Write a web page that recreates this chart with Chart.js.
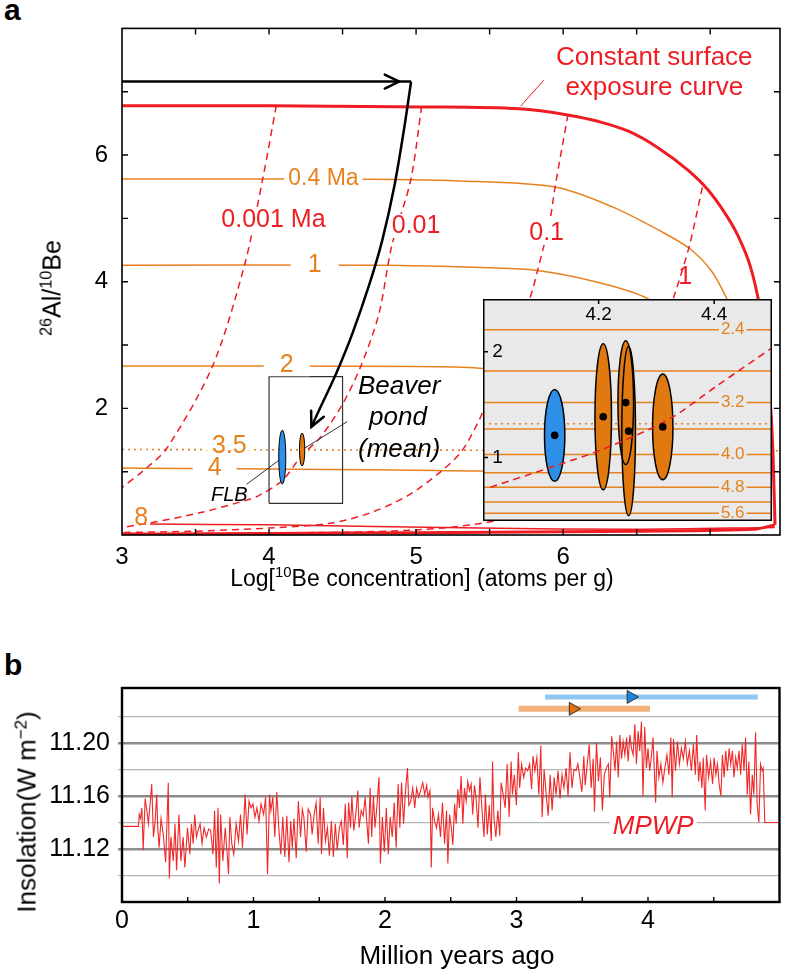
<!DOCTYPE html>
<html>
<head>
<meta charset="utf-8">
<script src="https://cdn.jsdelivr.net/npm/chart.js@4.4.1/dist/chart.umd.min.js"></script>
<style>
  body { margin: 0; background: #fff; width: 788px; height: 972px; position: relative; overflow: hidden;
         font-family: 'Liberation Sans', Arial, Helvetica, sans-serif; }
  canvas { position: absolute; }
  .t { position: absolute; white-space: nowrap; color: #000; }
  .ctr { transform: translate(-50%, -50%); }
  .rot { transform: translate(-50%, -50%) rotate(-90deg); }
  sup { font-size: 65%; vertical-align: 0.55em; line-height: 0; }
</style>
</head>
<body>
<div class="t" style="left:4px;top:-7px;font-size:30px;font-weight:bold">a</div>
<canvas id="chartA" width="788" height="600" style="left:0;top:0"></canvas>
<canvas id="inset" width="297" height="230" style="left:479px;top:295px"></canvas>
<div class="t ctr" style="left:422px;top:578px;font-size:23px">Log[<sup>10</sup>Be concentration] (atoms per g)</div>
<div class="t rot" style="left:52px;top:288px;font-size:25px"><sup>26</sup>Al/<sup>10</sup>Be</div>

<div class="t" style="left:4px;top:648px;font-size:30px;font-weight:bold">b</div>
<canvas id="chartB" width="788" height="312" style="left:0;top:660px"></canvas>
<div class="t ctr" style="left:457px;top:955px;font-size:26px">Million years ago</div>
<div class="t rot" style="left:27px;top:812px;font-size:26px">Insolation(W m<sup>−2</sup>)</div>

<script>
// ---- panel a data (log10 Be, 26Al/10Be) ----
const exposureCurve = [[3.0,6.78],[4.0,6.78],[5.04,6.76],[5.70,6.73],[6.03,6.633],[6.24,6.53],[6.444,6.376],[6.647,6.113],[6.851,5.757],[6.986,5.448],[7.102,5.077],[7.19,4.722],[7.271,4.258],[7.325,3.748],[7.366,3.176],[7.40,2.403],[7.427,1.321],[7.441,0.162]];
const exposureLower = [[7.441,0.162],[7.3,0.09],[6.5,0.06],[5.5,0.045],[4.5,0.03],[3.5,0.02],[3.0,0.015]];
const burial8 = [[3.19,0.173],[4.0,0.16],[5.43,0.11],[6.5,0.09],[7.44,0.12]];
const burial04 = [[3.0,5.62],[4.5,5.62],[5.3,5.59],[5.947,5.494],[6.331,5.185],[6.67,4.79],[6.862,4.52],[7.009,4.17],[7.111,3.743],[7.25,3.0],[7.35,2.0]];
const burial1 = [[3.0,4.26],[4.75,4.26],[5.5,4.22],[5.814,4.18],[6.22,4.0],[6.56,3.75],[6.9,3.2],[7.1,2.5]];
const burial2 = [[3.0,2.67],[5.0,2.66],[5.43,2.635],[6.0,2.5],[6.6,2.1]];
const burial35 = [[3.0,1.35],[7.475,1.33]];
const burial4 = [[3.0,1.06],[5.43,1.01],[6.5,0.9]];
const exposure0001 = [[4.049,6.78],[3.955,5.60],[3.833,4.26],[3.616,2.67],[3.305,1.37],[3.142,1.01],[3.0,0.75]];
const exposure001 = [[5.038,6.77],[4.963,5.60],[4.835,4.57],[4.747,3.49],[4.625,2.67],[4.496,2.05],[4.341,1.52],[4.227,1.27],[4.090,0.86],[3.936,0.63],[3.846,0.55],[3.528,0.35],[3.19,0.19],[3.0,0.12]];
const exposure01 = [[6.033,6.64],[5.945,5.49],[5.911,4.98],[5.830,4.21],[5.776,3.75],[5.62,2.8],[5.50,2.2],[5.424,1.79],[5.309,1.32],[5.173,1.01],[4.95,0.63],[4.70,0.36],[4.43,0.19],[4.0,0.11],[3.5,0.06],[3.0,0.04]];
const exposure1 = [[6.947,5.49],[6.859,4.57],[6.764,3.84],[6.6,2.7],[6.35,1.5],[6.0,0.6],[5.6,0.25],[5.0,0.08],[4.0,0.03],[3.0,0.01]];
const arrowTop = [[3.0,7.16],[4.966,7.16]];
const arrowCurve = [[4.966,7.16],[4.919,6.421],[4.851,5.494],[4.769,4.645],[4.681,3.949],[4.566,3.176],[4.458,2.558],[4.356,2.048],[4.288,1.708]];
const zoomBox = [[4.0,0.5],[4.5,0.5],[4.5,2.5],[4.0,2.5],[4.0,0.5]];
const leaderConst = [[5.868,7.18],[5.710,6.77]];
const leaderBeaver = [[4.532,1.79],[4.241,1.37]];
const leaderFLB = [[3.847,0.80],[4.085,1.21]];
// samples: [centre x, centre y, half width, half height]
const sampleFLB = [4.09, 1.23, 0.024, 0.425];
const sampleBeaverMean = [4.225, 1.35, 0.018, 0.26];
const xTicksA = [3.5,4,4.5,5,5.5,6,6.5,7];
const yTicksA = [1,2,3,4,5,6,7];

// ---- inset data ----
const insetIsoLevels = [2.21, 1.82, 1.52, 1.27, 1.03, 0.856, 0.719, 0.58, 0.474];
const insetIsoAges = ['2.4','2.8','3.2','3.6','4.0','4.4','4.8','5.2','5.6'];
const insetDotted = 1.32;
const insetExposure = [[4.013,0.72],[4.124,0.92],[4.208,1.08],[4.321,1.36],[4.405,1.68],[4.498,2.03]];
const insetFLB = [[4.124, 1.21, 0.0176, 0.435]];
const insetBeaver = [[4.208,1.386,0.0143,0.69],[4.252,1.25,0.0118,0.80],[4.247,1.52,0.0135,0.585],[4.311,1.29,0.0176,0.50]];

// ---- panel b data ----
const insolation = [[0,11.137],[0.126,11.137],[0.131,11.146],[0.141,11.143],[0.151,11.151],[0.161,11.119],[0.176,11.158],[0.189,11.149],[0.201,11.139],[0.226,11.169],[0.239,11.129],[0.252,11.141],[0.264,11.161],[0.272,11.136],[0.282,11.121],[0.297,11.143],[0.314,11.131],[0.332,11.110],[0.352,11.170],[0.360,11.098],[0.372,11.129],[0.390,11.111],[0.403,11.139],[0.415,11.104],[0.433,11.146],[0.448,11.111],[0.465,11.129],[0.478,11.106],[0.498,11.136],[0.516,11.116],[0.528,11.139],[0.541,11.124],[0.553,11.146],[0.566,11.129],[0.579,11.134],[0.594,11.139],[0.609,11.124],[0.624,11.136],[0.642,11.129],[0.659,11.135],[0.674,11.134],[0.692,11.116],[0.704,11.149],[0.717,11.106],[0.730,11.151],[0.740,11.094],[0.750,11.146],[0.767,11.111],[0.785,11.136],[0.800,11.116],[0.810,11.101],[0.820,11.144],[0.835,11.124],[0.850,11.116],[0.868,11.139],[0.886,11.126],[0.901,11.146],[0.916,11.121],[0.936,11.161],[0.951,11.131],[0.966,11.156],[0.981,11.151],[0.996,11.154],[1.011,11.144],[1.026,11.151],[1.042,11.141],[1.057,11.154],[1.077,11.146],[1.092,11.159],[1.107,11.101],[1.122,11.161],[1.132,11.149],[1.147,11.159],[1.162,11.129],[1.177,11.163],[1.192,11.136],[1.208,11.116],[1.223,11.144],[1.238,11.114],[1.253,11.145],[1.270,11.110],
[1.283,11.141],[1.295,11.121],[1.308,11.143],[1.325,11.113],[1.341,11.156],[1.358,11.129],[1.371,11.150],[1.383,11.144],[1.401,11.118],[1.416,11.150],[1.434,11.146],[1.446,11.131],[1.461,11.146],[1.476,11.155],[1.492,11.124],[1.507,11.159],[1.517,11.116],[1.532,11.151],[1.547,11.126],[1.562,11.136],[1.577,11.115],[1.592,11.141],[1.607,11.114],[1.622,11.139],[1.637,11.119],[1.653,11.136],[1.668,11.141],[1.683,11.123],[1.698,11.154],[1.713,11.113],[1.723,11.155],[1.738,11.136],[1.748,11.160],[1.763,11.134],[1.778,11.146],[1.793,11.164],[1.803,11.136],[1.819,11.149],[1.834,11.145],[1.849,11.159],[1.861,11.141],[1.874,11.124],[1.887,11.166],[1.899,11.129],[1.912,11.160],[1.924,11.136],[1.939,11.153],[1.954,11.174],[1.965,11.109],[1.980,11.144],[1.995,11.118],[2.010,11.151],[2.025,11.116],[2.040,11.144],[2.055,11.129],[2.070,11.155],[2.085,11.121],[2.100,11.169],[2.113,11.136],[2.126,11.170],[2.141,11.139],[2.156,11.164],[2.171,11.181],[2.181,11.153],[2.196,11.156],[2.211,11.166],[2.226,11.151],[2.241,11.166],[2.256,11.159],[2.271,11.164],[2.287,11.170],[2.302,11.161],[2.317,11.168],[2.327,11.159],[2.342,11.164],[2.352,11.106],[2.362,11.151],[2.377,11.141],[2.392,11.136],[2.407,11.146],[2.422,11.129],[2.437,11.155],[2.453,11.124],[2.468,11.149],[2.478,11.109],
[2.491,11.146],[2.504,11.136],[2.516,11.123],[2.529,11.154],[2.541,11.139],[2.554,11.165],[2.566,11.151],[2.579,11.175],[2.592,11.139],[2.604,11.166],[2.617,11.156],[2.629,11.171],[2.642,11.164],[2.655,11.169],[2.667,11.146],[2.680,11.168],[2.692,11.159],[2.707,11.136],[2.722,11.174],[2.738,11.149],[2.753,11.129],[2.763,11.161],[2.778,11.131],[2.793,11.153],[2.808,11.126],[2.818,11.186],[2.828,11.144],[2.843,11.129],[2.858,11.149],[2.873,11.130],[2.883,11.170],[2.899,11.161],[2.914,11.151],[2.929,11.184],[2.944,11.144],[2.959,11.186],[2.969,11.161],[2.984,11.176],[2.999,11.153],[3.014,11.193],[3.024,11.166],[3.039,11.184],[3.055,11.174],[3.070,11.181],[3.085,11.179],[3.100,11.184],[3.115,11.165],[3.125,11.190],[3.140,11.179],[3.155,11.189],[3.170,11.161],[3.185,11.198],[3.195,11.144],[3.210,11.180],[3.226,11.161],[3.241,11.145],[3.256,11.176],[3.271,11.149],[3.286,11.174],[3.301,11.161],[3.316,11.179],[3.331,11.158],[3.346,11.176],[3.361,11.166],[3.377,11.181],[3.392,11.160],[3.407,11.193],[3.422,11.166],[3.437,11.180],[3.452,11.179],[3.467,11.184],[3.482,11.174],[3.497,11.163],[3.512,11.190],[3.522,11.168],[3.538,11.184],[3.553,11.199],[3.568,11.166],[3.583,11.188],[3.593,11.148],[3.608,11.200],[3.623,11.171],[3.638,11.189],[3.653,11.149],[3.668,11.176],[3.683,11.181],[3.699,11.184],[3.709,11.159],[3.724,11.205],[3.739,11.191],
[3.749,11.179],[3.761,11.201],[3.774,11.174],[3.786,11.206],[3.799,11.188],[3.811,11.201],[3.824,11.191],[3.837,11.204],[3.849,11.186],[3.862,11.206],[3.874,11.196],[3.887,11.191],[3.900,11.214],[3.912,11.184],[3.925,11.209],[3.937,11.194],[3.950,11.216],[3.962,11.160],[3.975,11.212],[3.988,11.181],[4.000,11.196],[4.013,11.179],[4.025,11.189],[4.038,11.204],[4.050,11.174],[4.058,11.155],[4.068,11.194],[4.083,11.174],[4.098,11.184],[4.113,11.170],[4.128,11.181],[4.144,11.191],[4.159,11.176],[4.174,11.204],[4.184,11.159],[4.194,11.203],[4.209,11.179],[4.224,11.201],[4.239,11.184],[4.254,11.196],[4.269,11.188],[4.284,11.201],[4.299,11.184],[4.315,11.194],[4.330,11.179],[4.345,11.199],[4.360,11.176],[4.370,11.206],[4.385,11.171],[4.395,11.186],[4.410,11.166],[4.420,11.189],[4.435,11.149],[4.445,11.191],[4.461,11.174],[4.476,11.186],[4.491,11.169],[4.503,11.189],[4.516,11.176],[4.528,11.184],[4.541,11.169],[4.554,11.160],[4.566,11.191],[4.579,11.174],[4.591,11.194],[4.604,11.179],[4.617,11.196],[4.629,11.184],[4.642,11.194],[4.654,11.174],[4.667,11.189],[4.679,11.181],[4.692,11.194],[4.705,11.176],[4.717,11.199],[4.730,11.179],[4.742,11.204],[4.755,11.161],[4.767,11.186],[4.780,11.146],[4.793,11.176],[4.805,11.161],[4.818,11.208],[4.830,11.154],[4.843,11.140],[4.856,11.184],[4.868,11.179],[4.876,11.181],[4.888,11.140],[5.0,11.140]];
const ageRangeFLB = [3.217, 4.835];
const ageMeanFLB = 3.87;
const ageRangeBeaver = [3.016, 4.015];
const ageMeanBeaver = 3.43;
const rangeLevelFLB = 11.2347;
const rangeLevelBeaver = 11.2257;
const xTicksB = [0.5,1,1.5,2,2.5,3,3.5,4,4.5];

// ---- styling ----
const FONT = "'Liberation Sans', Arial, Helvetica, sans-serif";
const RED = '#ee1d23';
const ORANGE = '#e6821e';
const OR_FILL = '#e07a10';
const BLUE_FILL = '#2e8fe8';
Chart.defaults.font.family = FONT;
Chart.defaults.color = '#000';

const pts = arr => arr.map(([x, y]) => ({x, y}));
function line(arr, color, width, extra) {
  return Object.assign({data: pts(arr), borderColor: color, borderWidth: width,
    pointRadius: 0, fill: false, tension: 0}, extra || {});
}

function frameTicks(opts) {
  return {
    id: 'frameTicks',
    afterDraw(chart) {
      const {ctx, chartArea: a, scales: {x, y}} = chart;
      ctx.save();
      ctx.strokeStyle = '#000';
      ctx.lineWidth = opts.width;
      ctx.strokeRect(a.left, a.top, a.right - a.left, a.bottom - a.top);
      ctx.lineWidth = opts.tickWidth;
      ctx.beginPath();
      opts.xTicks.forEach(v => {
        const px = x.getPixelForValue(v);
        ctx.moveTo(px, a.bottom); ctx.lineTo(px, a.bottom - opts.len);
        if (opts.top) { ctx.moveTo(px, a.top); ctx.lineTo(px, a.top + opts.len); }
      });
      (opts.yTicks || []).forEach(v => {
        const py = y.getPixelForValue(v);
        ctx.moveTo(a.left, py); ctx.lineTo(a.left + opts.len, py);
        ctx.moveTo(a.right, py); ctx.lineTo(a.right - opts.len, py);
      });
      ctx.stroke();
      ctx.restore();
    }
  };
}

function drawLabels(chart, list) {
  const {ctx, scales: {x, y}} = chart;
  ctx.save();
  ctx.textAlign = 'center';
  ctx.textBaseline = 'middle';
  list.forEach(l => {
    ctx.font = l.font;
    const px = x.getPixelForValue(l.x), py = y.getPixelForValue(l.y);
    if (l.bg) {
      const w = ctx.measureText(l.text).width;
      ctx.fillStyle = l.bg;
      ctx.fillRect(px - w / 2 - l.pad, py - l.h / 2, w + 2 * l.pad, l.h);
    }
    ctx.fillStyle = l.color;
    ctx.fillText(l.text, px, py);
  });
  ctx.restore();
}

function drawEllipses(chart, list, fill, lw) {
  const {ctx, scales: {x, y}} = chart;
  ctx.save();
  const shapes = list.map(([cx, cy, rx, ry]) => ({
    px: x.getPixelForValue(cx), py: y.getPixelForValue(cy),
    rx: Math.abs(x.getPixelForValue(cx + rx) - x.getPixelForValue(cx)),
    ry: Math.abs(y.getPixelForValue(cy + ry) - y.getPixelForValue(cy))
  }));
  shapes.forEach(s => {
    ctx.beginPath(); ctx.ellipse(s.px, s.py, s.rx, s.ry, 0, 0, Math.PI * 2);
    ctx.fillStyle = fill; ctx.fill();
  });
  shapes.forEach(s => {
    ctx.beginPath(); ctx.ellipse(s.px, s.py, s.rx, s.ry, 0, 0, Math.PI * 2);
    ctx.strokeStyle = '#000'; ctx.lineWidth = lw; ctx.stroke();
  });
  ctx.restore();
}

function arrowHead(chart, tip, from, len) {
  const {ctx, scales: {x, y}} = chart;
  const tx = x.getPixelForValue(tip[0]), ty = y.getPixelForValue(tip[1]);
  const fx = x.getPixelForValue(from[0]), fy = y.getPixelForValue(from[1]);
  const ang = Math.atan2(ty - fy, tx - fx);
  ctx.save();
  ctx.strokeStyle = '#000'; ctx.lineWidth = 2.5; ctx.lineCap = 'round';
  ctx.beginPath();
  ctx.moveTo(tx - len * Math.cos(ang - 0.45), ty - len * Math.sin(ang - 0.45));
  ctx.lineTo(tx, ty);
  ctx.lineTo(tx - len * Math.cos(ang + 0.45), ty - len * Math.sin(ang + 0.45));
  ctx.stroke();
  ctx.restore();
}

// ---------- panel a ----------
const F = (s, it) => (it ? 'italic ' : '') + s + 'px ' + FONT;
const labelsA = [
  {text: 'Constant surface', x: 6.62, y: 7.53, color: RED, font: F(26)},
  {text: 'exposure curve', x: 6.62, y: 7.06, color: RED, font: F(26)},
  {text: '0.001 Ma', x: 4.03, y: 4.98, color: RED, font: F(25), bg: '#fff', pad: 2, h: 24},
  {text: '0.01', x: 5.0, y: 4.88, color: RED, font: F(25), bg: '#fff', pad: 1, h: 24},
  {text: '0.1', x: 5.888, y: 4.77, color: RED, font: F(25), bg: '#fff', pad: 2, h: 24},
  {text: '1', x: 6.83, y: 4.07, color: RED, font: F(25)},
  {text: '0.4 Ma', x: 4.37, y: 5.62, color: ORANGE, font: F(23), bg: '#fff', pad: 4, h: 22},
  {text: '1', x: 4.31, y: 4.26, color: ORANGE, font: F(25), bg: '#fff', pad: 17, h: 22},
  {text: '2', x: 4.12, y: 2.68, color: ORANGE, font: F(25), bg: '#fff', pad: 16, h: 22},
  {text: '3.5', x: 3.73, y: 1.40, color: ORANGE, font: F(25), bg: '#fff', pad: 7, h: 8},
  {text: '4', x: 3.63, y: 1.05, color: ORANGE, font: F(25), bg: '#fff', pad: 15, h: 22},
  {text: '8', x: 3.13, y: 0.26, color: ORANGE, font: F(25)},
  {text: 'Beaver', x: 4.885, y: 2.34, color: '#000', font: F(26, true)},
  {text: 'pond', x: 4.877, y: 1.85, color: '#000', font: F(26, true)},
  {text: '(mean)', x: 4.885, y: 1.34, color: '#000', font: F(26, true)},
  {text: 'FLB', x: 3.73, y: 0.63, color: '#000', font: F(20, true)}
];

const dash = [7, 5];
new Chart(document.getElementById('chartA'), {
  type: 'line',
  data: {
    datasets: [
      line(burial04, ORANGE, 1.5, {tension: 0.3, order: 6}),
      line(burial1, ORANGE, 1.5, {tension: 0.3, order: 6}),
      line(burial2, ORANGE, 1.5, {tension: 0.3, order: 6}),
      line(burial35, ORANGE, 1.6, {borderDash: [2, 4], order: 6}),
      line(burial4, ORANGE, 1.5, {tension: 0.3, order: 6}),
      line(exposure0001, RED, 1.5, {tension: 0.3, borderDash: dash, order: 5}),
      line(exposure001, RED, 1.5, {tension: 0.3, borderDash: dash, order: 5}),
      line(exposure01, RED, 1.5, {tension: 0.3, borderDash: dash, order: 5}),
      line(exposure1, RED, 1.5, {tension: 0.3, borderDash: dash, order: 5}),
      line(burial8, RED, 1.5, {tension: 0.3, order: 5}),
      line(exposureCurve, RED, 3, {cubicInterpolationMode: 'monotone', order: 4}),
      line(exposureLower, RED, 3, {tension: 0.3, order: 4}),
      line(zoomBox, '#333', 1.2, {order: 3}),
      line(leaderConst, RED, 1, {order: 3}),
      line(leaderBeaver, '#333', 1, {order: 3}),
      line(leaderFLB, '#333', 1, {order: 3}),
      line(arrowTop, '#000', 2.5, {order: 1}),
      line(arrowCurve, '#000', 2.5, {tension: 0.3, order: 1})
    ]
  },
  options: {
    responsive: false,
    animation: false,
    layout: {padding: {top: 18, right: 6, left: 0, bottom: 0}},
    plugins: {legend: {display: false}, tooltip: {enabled: false}},
    scales: {
      x: {
        type: 'linear', min: 3, max: 7.475,
        grid: {display: false, drawTicks: false}, border: {display: false},
        ticks: {stepSize: 0.5, padding: 8, font: {size: 24},
                callback: v => Number.isInteger(v) ? v : ''},
        afterFit: s => { s.height = 65; }
      },
      y: {
        min: 0, max: 8,
        grid: {display: false, drawTicks: false}, border: {display: false},
        ticks: {stepSize: 1, padding: 14, font: {size: 24},
                callback: v => [2, 4, 6].includes(v) ? v : ''},
        afterFit: s => { s.width = 122; }
      }
    }
  },
  plugins: [
    {
      id: 'decorA',
      afterDatasetsDraw(chart) {
        drawLabels(chart, labelsA);
        drawEllipses(chart, [sampleFLB], BLUE_FILL, 1);
        drawEllipses(chart, [sampleBeaverMean], OR_FILL, 1);
        arrowHead(chart, [4.885, 7.16], [4.6, 7.16], 16);
        arrowHead(chart, arrowCurve[arrowCurve.length - 1], arrowCurve[arrowCurve.length - 2], 16);
      }
    },
    frameTicks({width: 1.6, tickWidth: 1.4, len: 6, top: true, xTicks: xTicksA, yTicks: yTicksA})
  ]
});

// ---------- inset ----------
const labelsInset = [
  {text: '4.2', x: 4.2, y: 2.354, color: '#000', font: F(19)},
  {text: '4.4', x: 4.4, y: 2.354, color: '#000', font: F(19)},
  {text: '2', x: 4.025, y: 2.0, color: '#000', font: F(19)},
  {text: '1', x: 4.025, y: 1.0, color: '#000', font: F(19)}
].concat(insetIsoLevels.map((v, i) => i % 2 === 0 ?
  {text: insetIsoAges[i], x: 4.432, y: v, color: ORANGE, font: F(17), bg: '#e9e9e9', pad: 2, h: 16} : null)
  .filter(Boolean));

const insetDatasets = insetIsoLevels.map(v => line([[4.0, v], [4.5, v]], ORANGE, 1.5, {order: 5}));
insetDatasets.push(line([[4.0, insetDotted], [4.5, insetDotted]], ORANGE, 1.6, {borderDash: [2, 4], order: 5}));
insetDatasets.push(line(insetExposure, RED, 1.6, {tension: 0.3, borderDash: dash, order: 2, role: 'dash'}));
insetDatasets.push({
  data: pts(insetFLB.concat(insetBeaver).map(e => [e[0], e[1]])),
  showLine: false, pointRadius: 3.8, pointBackgroundColor: '#000', pointBorderWidth: 0, order: 0
});

new Chart(document.getElementById('inset'), {
  type: 'line',
  data: {datasets: insetDatasets},
  options: {
    responsive: false,
    animation: false,
    layout: {padding: 0},
    plugins: {legend: {display: false}, tooltip: {enabled: false}},
    scales: {
      x: {type: 'linear', min: 4.0, max: 4.5, display: false},
      y: {min: 0.4, max: 2.5, display: false}
    }
  },
  plugins: [{
    id: 'insetDecor',
    beforeDatasetsDraw(chart) {
      const {ctx, chartArea: a} = chart;
      ctx.save();
      ctx.fillStyle = '#e9e9e9';
      ctx.fillRect(a.left, a.top, a.right - a.left, a.bottom - a.top);
      ctx.restore();
    },
    afterDatasetsDraw(chart) {
      drawLabels(chart, labelsInset);
    },
    beforeDatasetDraw(chart, args) {
      if (chart.data.datasets[args.index].role === 'dash') {
        drawEllipses(chart, insetFLB, BLUE_FILL, 1.5);
        drawEllipses(chart, insetBeaver, OR_FILL, 1.5);
      }
    },
    afterDraw(chart) {
      const {ctx, chartArea: a, scales: {x, y}} = chart;
      ctx.save();
      ctx.strokeStyle = '#000';
      ctx.lineWidth = 1.5;
      ctx.strokeRect(a.left + 0.75, a.top + 0.75, a.right - a.left - 1.5, a.bottom - a.top - 1.5);
      ctx.beginPath();
      [4.2, 4.4].forEach(v => { const px = x.getPixelForValue(v); ctx.moveTo(px, a.top); ctx.lineTo(px, a.top + 5); });
      [1, 2].forEach(v => { const py = y.getPixelForValue(v); ctx.moveTo(a.left, py); ctx.lineTo(a.left + 5, py); });
      ctx.stroke();
      ctx.restore();
    }
  }]
});

// ---------- panel b ----------
const labelsB = [
  {text: 'MPWP', x: 4.04, y: 11.137, color: RED, font: F(26, true), bg: '#fff', pad: 3, h: 20}
];
const majorB = [1112, 1116, 1120];
const minorB = [1110, 1114, 1118, 1122];

new Chart(document.getElementById('chartB'), {
  type: 'line',
  data: {
    datasets: [
      line(insolation, 'rgb(240,40,40)', 1.1, {order: 3}),
      line([[ageRangeFLB[0], rangeLevelFLB], [ageRangeFLB[1], rangeLevelFLB]], '#8fc6f2', 5, {order: 2}),
      line([[ageRangeBeaver[0], rangeLevelBeaver], [ageRangeBeaver[1], rangeLevelBeaver]], '#f2b27a', 6, {order: 2}),
      {data: pts([[ageMeanFLB, rangeLevelFLB]]), showLine: false, pointStyle: 'triangle', rotation: 90,
       pointRadius: 7.5, pointBackgroundColor: '#1f86e0', pointBorderColor: '#333', pointBorderWidth: 1, order: 0},
      {data: pts([[ageMeanBeaver, rangeLevelBeaver]]), showLine: false, pointStyle: 'triangle', rotation: 90,
       pointRadius: 7.5, pointBackgroundColor: '#e0700f', pointBorderColor: '#333', pointBorderWidth: 1, order: 0}
    ]
  },
  options: {
    responsive: false,
    animation: false,
    layout: {padding: {top: 28, right: 3, left: 0, bottom: 0}},
    plugins: {legend: {display: false}, tooltip: {enabled: false}},
    scales: {
      x: {
        type: 'linear', min: 0, max: 5,
        grid: {display: false, drawTicks: false}, border: {display: false},
        ticks: {stepSize: 1, padding: 4, font: {size: 25}, callback: v => v < 5 ? v : ''},
        afterFit: s => { s.height = 70; }
      },
      y: {
        min: 11.08, max: 11.2414,
        border: {display: false},
        grid: {
          drawTicks: true, tickLength: 4,
          color: c => {
            const k = Math.round(c.tick.value * 100);
            return majorB.includes(k) ? '#8c8c8c' : (minorB.includes(k) ? '#b5b5b5' : 'rgba(0,0,0,0)');
          },
          lineWidth: c => majorB.includes(Math.round(c.tick.value * 100)) ? 2.5 : 1.2
        },
        ticks: {stepSize: 0.02, padding: 8, font: {size: 25, lineHeight: 0.7}, autoSkip: false,
                callback: v => majorB.includes(Math.round(v * 100)) ? v.toFixed(2) : ''},
        afterFit: s => { s.width = 122; }
      }
    }
  },
  plugins: [
    {
      id: 'decorB',
      beforeDatasetsDraw(chart) { drawLabels(chart, labelsB); }
    },
    frameTicks({width: 2.4, tickWidth: 1.4, len: 5, top: false, xTicks: xTicksB, yTicks: []})
  ]
});
</script>
</body>
</html>
